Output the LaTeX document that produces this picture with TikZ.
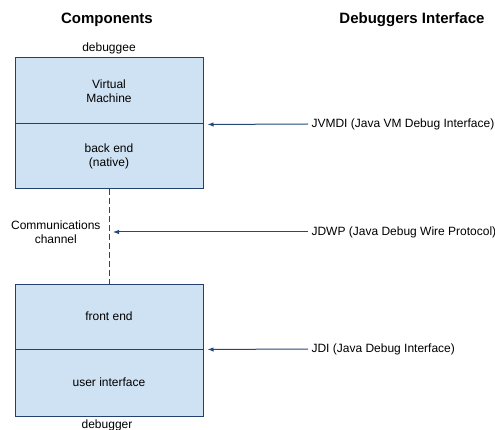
\documentclass[tikz,border=0pt]{standalone}
\usepackage{fontspec}
\setmainfont{Liberation Sans}
\usetikzlibrary{arrows.meta}
\definecolor{boxfill}{RGB}{207,226,243}
\definecolor{boxline}{RGB}{36,64,110}
\definecolor{arrowline}{RGB}{36,72,120}

\begin{document}
\begin{tikzpicture}[x=1pt,y=-1pt,font=\fontsize{12}{14}\selectfont,
	part/.style={rectangle,draw=boxline,fill=boxfill,line width=1pt,minimum width=188pt,align=center},
	heading/.style={font=\fontsize{15}{17}\selectfont\bfseries},
	iface/.style={anchor=west},
	link/.style={draw=arrowline,line width=1pt,-{Latex[length=6pt,width=4.5pt]},shorten >=4pt}]
	\useasboundingbox (0,0) rectangle (495,430);
	% column titles
	\node (comp) at (107,20) [heading] {Components};
	\node (dbgif) at (412,20) [heading] {Debuggers Interface};
	% debuggee
	\node (debuggee) at (109,48) {debuggee};
	\node (vm) at (109,91) [part,minimum height=66pt] {Virtual\\Machine};
	\node (backend) at (109,156.5) [part,minimum height=65pt] {back end\\(native)};
	% debugger
	\node (frontend) at (109,316.5) [part,minimum height=65pt] {front end};
	\node (userif) at (109,382.5) [part,minimum height=67pt] {user interface};
	\node (debugger) at (107,425) {debugger};
	% channel
	\draw [arrowline,line width=1pt,dash pattern=on 6pt off 3pt] (backend) -- (frontend);
	\coordinate (channel) at (109,232);
	\node (commlabel) at (104,232) [anchor=east,align=center] {Communications\\channel};
	% interfaces
	\node (jvmdi) at (308,124) [iface] {JVMDI (Java VM Debug Interface)};
	\node (jdwp) at (308,232) [iface] {JDWP (Java Debug Wire Protocol)};
	\node (jdi) at (308,349) [iface] {JDI (Java Debug Interface)};
	\draw [link] (jvmdi.west) -- (vm.south east);
	\draw [link] (jdwp.west) -- (channel);
	\draw [link] (jdi.west) -- (frontend.south east);
\end{tikzpicture}
\end{document}
